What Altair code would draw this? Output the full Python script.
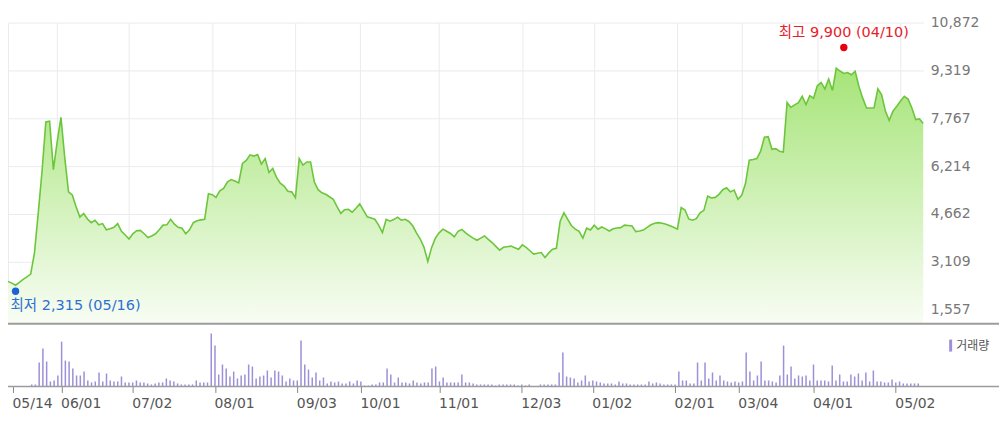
import altair as alt
import pandas as pd

# ---- data (trading-day index 0 = 05/14) ----
price = [
    2473, 2420, 2350, 2440, 2540, 2620, 2710, 3400, 4700, 6050,
    7650, 7670, 6100, 7000, 7800, 6500, 5380, 5280, 4900, 4560,
    4680, 4500, 4380, 4460, 4310, 4350, 4150, 4180, 4230, 4350,
    4100, 3980, 3850, 4020, 4120, 4130, 4020, 3900, 3950, 4020,
    4150, 4300, 4310, 4490, 4330, 4230, 4200, 4020, 4150, 4380,
    4440, 4470, 4490, 5320, 5290, 5200, 5410, 5490, 5700, 5780,
    5730, 5670, 6300, 6400, 6580, 6540, 6590, 6280, 6460, 6010,
    6140, 5850, 5660, 5570, 5400, 5380, 5190, 6460, 6250, 6350,
    6350, 5700, 5450, 5350, 5300, 5220, 5140, 4900, 4680, 4800,
    4815, 4720, 4850, 4990, 4780, 4570, 4530, 4490, 4300, 4060,
    4490, 4430, 4480, 4560, 4460, 4490, 4420, 4280, 4050, 3850,
    3580, 3120, 3570, 3880, 4050, 4170, 4100, 4030, 3920, 4100,
    4160, 4050, 3960, 3880, 3810, 3880, 3950, 3840, 3735, 3610,
    3490, 3580, 3600, 3620, 3570, 3520, 3660, 3580, 3470, 3360,
    3390, 3410, 3250, 3400, 3520, 3550, 4430, 4700, 4490, 4280,
    4170, 4100, 3880, 4200, 4140, 4300, 4170, 4240, 4180, 4110,
    4180, 4210, 4220, 4300, 4290, 4270, 4090, 4110, 4140, 4230,
    4310, 4360, 4380, 4360, 4330, 4280, 4230, 4170, 4870, 4790,
    4500, 4460, 4510, 4700, 4780, 5240, 5180, 5200, 5300, 5450,
    5510, 5380, 5440, 5140, 5270, 5650, 6410, 6430, 6460, 6700,
    7150, 7170, 6760, 6780, 6700, 6670, 8280, 8120, 8200, 8270,
    8480, 8210, 8500, 8420, 8820, 8930, 8720, 9040, 8670, 9390,
    9300, 9220, 9250, 9180, 9290, 8800, 8420, 8100, 8100, 8110,
    8720, 8530, 8000, 7700, 8000, 8160, 8330, 8480, 8390, 8100,
    7725, 7745, 7600,
]

volume = [
    0.5, 0.5, 0.5, 0.5, 0.5, 2, 2, 24, 38, 25,
    5, 6, 11, 45, 26, 25, 18, 11, 11, 15,
    6, 4, 5, 14, 5, 13, 6, 5, 5, 10,
    4, 4, 4, 6, 4, 4, 3, 2, 3, 4,
    4, 8, 6, 5, 3, 2, 2, 2, 2, 6,
    4, 4, 4, 53, 41, 12, 22, 18, 10, 15,
    8, 11, 12, 22, 20, 8, 10, 11, 16, 9,
    16, 15, 11, 5, 8, 6, 6, 46, 22, 17,
    9, 14, 6, 9, 3, 5, 4, 5, 3, 3,
    5, 3, 6, 5, 1, 1, 2, 2, 4, 4,
    18, 12, 4, 9, 4, 4, 3, 6, 4, 3,
    4, 4, 18, 20, 5, 9, 4, 4, 4, 4,
    12, 4, 4, 3, 2, 2, 2, 2, 2, 1,
    2, 2, 2, 2, 2, 1, 2, 1, 2, 0.5,
    0.5, 2, 2, 2, 2, 2, 14, 34, 10, 9,
    8, 4, 6, 11, 5, 6, 5, 4, 3, 3,
    3, 2, 5, 3, 3, 2, 2, 2, 2, 2,
    5, 3, 4, 3, 2, 2, 2, 2, 15, 6,
    6, 3, 3, 24, 6, 24, 8, 14, 6, 11,
    6, 5, 4, 5, 4, 5, 34, 15, 6, 11,
    25, 6, 6, 5, 4, 11, 41, 12, 20, 8,
    11, 10, 11, 6, 22, 6, 6, 6, 5, 21,
    6, 12, 5, 5, 12, 10, 13, 6, 14, 5,
    16, 5, 5, 4, 4, 7, 4, 5, 3, 3,
    3, 3, 3,
]

tick_idx = [0, 13, 32, 54, 76, 93, 114, 136, 155, 177, 194, 214, 236]
tick_lbl = ["05/14", "06/01", "07/02", "08/01", "09/03", "10/01", "11/01",
            "12/03", "01/02", "02/01", "03/04", "04/01", "05/02"]
y_ticks = [1557, 3109, 4662, 6214, 7767, 9319, 10872]
y_min = 1104

hi_idx, hi_val, hi_txt = [221], [9900], ["최고 9,900 (04/10)"]
lo_idx, lo_val, lo_txt = [2], [2315], ["최저 2,315 (05/16)"]
legend_txt = "거래량"

assert len(price) == len(volume) == 243

FONT = "'DejaVu Sans', 'Noto Sans CJK KR', sans-serif"
KFONT = "'DejaVu Sans', 'Noto Sans CJK KR', sans-serif"
GRID = "#ebebeb"
VOLC = "#9d90d8"

df = pd.DataFrame({"i": list(range(len(price))), "price": price, "vol": volume})
hi_df = pd.DataFrame({"i": hi_idx, "price": hi_val, "t": hi_txt})
lo_df = pd.DataFrame({"i": lo_idx, "price": lo_val, "t": lo_txt})
one = pd.DataFrame({"a": [0]})

W = 918
xscale = alt.Scale(domain=[0, len(price) - 1], nice=False, zero=False)
yscale = alt.Scale(domain=[y_min, y_ticks[-1]], nice=False, zero=False)

x_top = alt.X("i:Q", scale=xscale,
              axis=alt.Axis(values=tick_idx, labels=False, ticks=False, domain=False,
                            grid=True, gridColor=GRID, title=None))
y_top = alt.Y("price:Q", scale=yscale,
              axis=alt.Axis(orient="right", values=y_ticks, format=",d", grid=True,
                            gridColor=GRID, domain=False, ticks=False, labelPadding=7,
                            labelFont=FONT, labelFontSize=14, labelColor="#777",
                            title=None))

base = alt.Chart(df).encode(x=x_top, y=y_top)
area = base.mark_area(
    color=alt.Gradient(gradient="linear",
                       stops=[alt.GradientStop(color="#a6e478", offset=0),
                              alt.GradientStop(color="#f8fdf4", offset=1)],
                       x1=0, x2=0, y1=0, y2=1)
).encode(y2=alt.datum(y_min))
line = base.mark_line(color="#6cc63c", strokeWidth=1.6)

hi_dot = alt.Chart(hi_df).mark_circle(size=55, color="#e60012", opacity=1, yOffset=-5).encode(
    x="i:Q", y="price:Q")
hi_text = alt.Chart(hi_df).mark_text(align="center", baseline="middle", dy=-20, font=KFONT,
                                     fontSize=14.5, color="#e8202a").encode(
    x="i:Q", y="price:Q", text="t:N")
lo_dot = alt.Chart(lo_df).mark_circle(size=55, color="#1a62d8", opacity=1, yOffset=5).encode(
    x="i:Q", y="price:Q")
lo_text = alt.Chart(lo_df).mark_text(align="left", baseline="middle", dx=-5, dy=20, font=KFONT,
                                     fontSize=14.5, color="#2f6fd3").encode(
    x="i:Q", y="price:Q", text="t:N")
bottom_rule = alt.Chart(one).mark_rule(color="#9c9c9c", strokeWidth=2).encode(
    x=alt.value(0), x2=alt.value(994), y=alt.value(302))

top = alt.layer(area, line, bottom_rule, hi_dot, hi_text, lo_dot, lo_text).properties(
    width=W, height=302)

lbl_expr = ("[" + ",".join(f"'{s}'" for s in tick_lbl) + "][indexof(["
            + ",".join(str(v) for v in tick_idx) + "], datum.value)]")

bars = alt.Chart(df).mark_bar(size=1.5, color=VOLC).encode(
    x=alt.X("i:Q", scale=xscale,
            axis=alt.Axis(values=tick_idx, labelExpr=lbl_expr, labelAlign="left",
                          grid=False, domain=False, ticks=True, tickColor="#888",
                          tickSize=6, labelPadding=4, labelOffset=-1, labelFont=FONT,
                          labelFontSize=14, labelColor="#555", labelFlush=False,
                          labelOverlap=False, title=None)),
    y=alt.Y("vol:Q", scale=alt.Scale(domain=[0, 56], nice=False), axis=None),
)
vol_rule = alt.Chart(one).mark_rule(color="#9c9c9c", strokeWidth=1.5).encode(
    x=alt.value(0), x2=alt.value(994), y=alt.value(56))
leg_box = alt.Chart(one).mark_rect(color=VOLC).encode(
    x=alt.value(944), x2=alt.value(947), y=alt.value(9), y2=alt.value(21))
leg_text = alt.Chart(one).mark_text(text=legend_txt, align="left", baseline="middle",
                                    font="'Noto Sans CJK KR', sans-serif", fontSize=12,
                                    color="#555").encode(x=alt.value(951), y=alt.value(15))

bottom = alt.layer(bars, vol_rule, leg_box, leg_text).properties(width=W, height=56)

chart = alt.vconcat(top, bottom, spacing=6).properties(
    padding={"left": -4, "top": 7, "right": 0, "bottom": 0}
).configure_view(stroke=None)

chart.save("out.html", embed_options={"renderer": "svg", "actions": False})
